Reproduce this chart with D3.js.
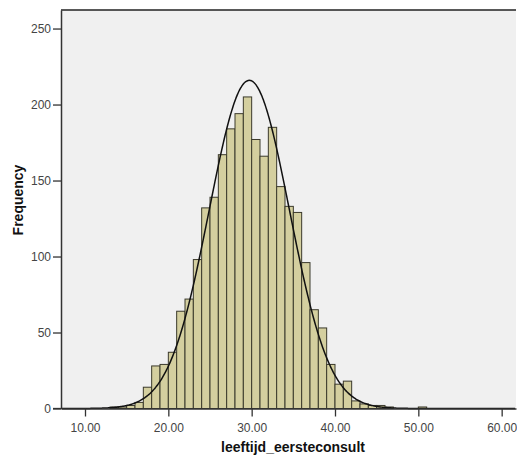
<!DOCTYPE html>
<html>
<head>
<meta charset="utf-8">
<script src="https://cdn.jsdelivr.net/npm/d3@7"></script>
<style>
body{margin:0;background:#fff}
text{font-family:Arial,"Liberation Sans",sans-serif}
</style>
</head>
<body>
<div id="chart"></div>
<script>
// histogram bins, width 1 (lower edge) and counts
var binStart = [13,14,15,16,17,18,19,20,21,22,23,24,25,26,27,28,29,30,31,32,33,34,35,36,37,38,39,40,41,42,43,44,45,46,50]
var counts   = [1,1,2,4,14,28,29,37,64,72,98,132,139,167,184,194,205,177,166,185,146,133,129,96,65,53,29,16,18,5,3,2,2,1,1]
var xTicks = [10,20,30,40,50,60]
var yTicks = [0,50,100,150,200,250]

// fitted normal curve
var mean = 29.72
var sd = 4.8
var n = 2598

var w = 517, h = 462
var plotL = 61, plotR = 516, plotT = 10, plotB = 408.5

var svg = d3.select("#chart").append("svg").attr("width",w).attr("height",h)

var x = d3.scaleLinear().domain([7.12,61.72]).range([plotL,plotR])
var y = d3.scaleLinear().domain([0,262.2]).range([plotB,plotT])

svg.append("rect")
	.attr("x",plotL).attr("y",plotT)
	.attr("width",plotR-plotL).attr("height",plotB-plotT)
	.attr("fill","#f0f0f0")

svg.append("line")
	.attr("x1",plotL).attr("x2",plotR).attr("y1",plotT).attr("y2",plotT)
	.attr("stroke","#222").attr("stroke-width",1.5)

svg.selectAll(".bar")
	.data(binStart)
	.enter()
	.append("rect")
	.attr("class","bar")
	.attr("x",function(d){return x(d)})
	.attr("width",function(d){return x(d+1)-x(d)})
	.attr("y",function(d,i){return y(counts[i])})
	.attr("height",function(d,i){return plotB-y(counts[i])})
	.attr("fill","#d4cf9f")
	.attr("stroke","#3b3a2c")
	.attr("stroke-width",1)

var pts = d3.range(7.2,61.7,0.1)
var line = d3.line()
	.x(function(d){return x(d)})
	.y(function(d){
		return y(n/(sd*Math.sqrt(2*Math.PI))*Math.exp(-Math.pow(d-mean,2)/(2*sd*sd)))
	})
	.curve(d3.curveBasis)

svg.append("path")
	.datum(pts)
	.attr("d",line)
	.attr("fill","none")
	.attr("stroke","#111")
	.attr("stroke-width",1.5)

var xAxis = svg.append("g")
	.attr("transform","translate(0,"+plotB+")")
	.call(d3.axisBottom(x).tickValues(xTicks).tickFormat(d3.format(".2f")).tickSize(8).tickSizeOuter(0))
var yAxis = svg.append("g")
	.attr("transform","translate("+plotL+",0)")
	.call(d3.axisLeft(y).tickValues(yTicks).tickSize(8).tickSizeOuter(0))

svg.selectAll(".domain").attr("stroke","#333").attr("stroke-width",1.5)
svg.selectAll(".tick line").attr("stroke","#333").attr("stroke-width",1.3)
svg.selectAll(".tick text").attr("fill","#444").style("font-size","12px")
xAxis.selectAll(".tick text").attr("dy","1em")
yAxis.selectAll(".tick text").attr("dx","1px")

// the x axis line continues under the y ticks as in the original
svg.append("line")
	.attr("x1",plotL-8).attr("x2",plotL).attr("y1",plotB).attr("y2",plotB)
	.attr("stroke","#333").attr("stroke-width",1.3)

svg.append("text")
	.attr("x",293).attr("y",452)
	.attr("text-anchor","middle")
	.style("font-size","14px").style("font-weight","bold")
	.attr("fill","#111")
	.text("leeftijd_eersteconsult")

svg.append("text")
	.attr("transform","translate(23,200) rotate(-90)")
	.attr("text-anchor","middle")
	.style("font-size","14px").style("font-weight","bold")
	.attr("fill","#111")
	.text("Frequency")
</script>
</body>
</html>
